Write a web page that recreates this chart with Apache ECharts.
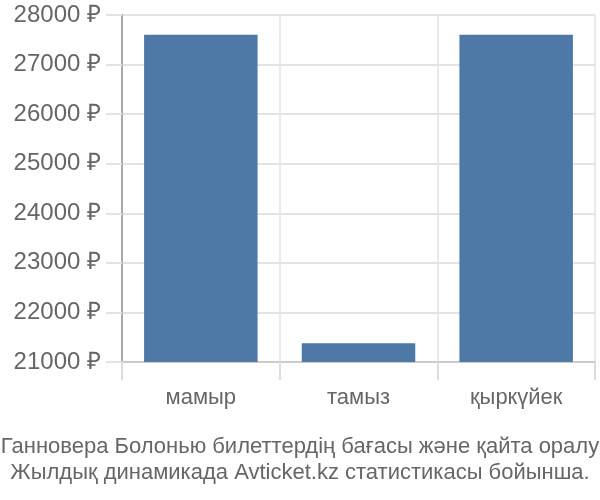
<!DOCTYPE html>
<html><head><meta charset="utf-8">
<script src="https://cdn.jsdelivr.net/npm/echarts@6/dist/echarts.min.js"></script>
<style>html,body{margin:0;padding:0;background:#fff}#c{width:600px;height:500px}</style>
</head><body><div id="c"></div>
<script>
const categories = ['мамыр', 'тамыз', 'қыркүйек'];
const prices = [27600, 21380, 27600];
const yMin = 21000, yMax = 28000, yStep = 1000;
const titleLines = ['Ганновера Болонью билеттердің бағасы және қайта оралу', 'Жылдық динамикада Avticket.kz статистикасы бойынша.'];

const chart = echarts.init(document.getElementById('c'), null, {renderer: 'canvas'});
chart.setOption({
  animation: false,
  title: {
    text: titleLines.join('\n'),
    left: 'center', bottom: 9,
    textStyle: {fontFamily: 'Liberation Sans', fontSize: 22, fontWeight: 'normal', color: '#666', lineHeight: 26}
  },
  grid: {left: 122, right: 5, top: 15, bottom: 138},
  xAxis: {
    type: 'category', data: categories, boundaryGap: true,
    axisLine: {show: true, lineStyle: {color: '#ccc', width: 2}},
    axisTick: {show: true, length: 18, lineStyle: {color: '#ddd', width: 2}},
    splitLine: {show: true, lineStyle: {color: '#e3e3e3', width: 1.5}},
    axisLabel: {fontFamily: 'Liberation Sans', fontSize: 22, color: '#666', margin: 25}
  },
  yAxis: {
    type: 'value', min: yMin, max: yMax, interval: yStep,
    axisLine: {show: true, lineStyle: {color: '#aaa', width: 2}},
    axisTick: {show: true, length: 16, lineStyle: {color: '#e3e3e3', width: 2}},
    splitLine: {show: true, lineStyle: {color: '#e3e3e3', width: 2}},
    axisLabel: {fontFamily: 'Liberation Sans', fontSize: 24, color: '#666', margin: 21,
      formatter: v => v + ' ₽'}
  },
  series: [{
    type: 'bar', data: prices, barWidth: '72%',
    itemStyle: {color: '#4e79a7'}
  }]
});
</script></body></html>
